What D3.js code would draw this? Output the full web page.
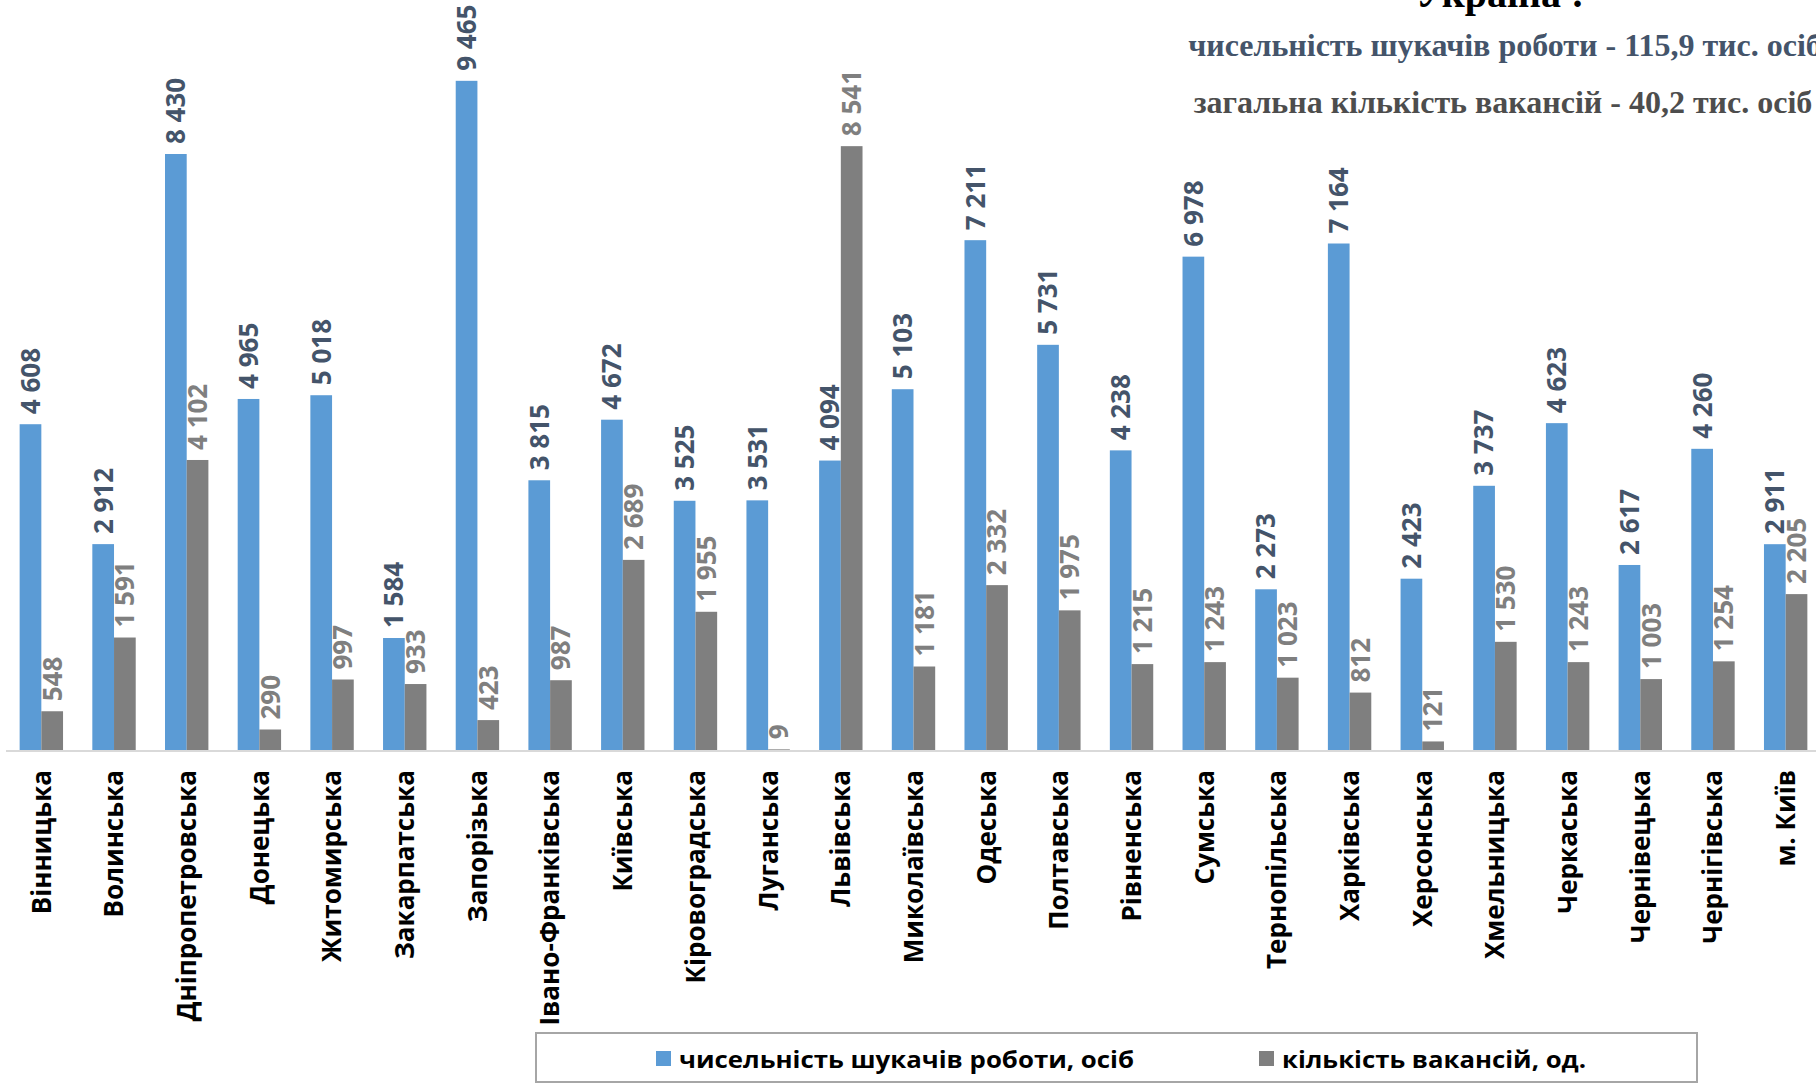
<!DOCTYPE html>
<html>
<head>
<meta charset="utf-8">
<script src="https://cdn.jsdelivr.net/npm/d3@7"></script>
<style>
  html, body { margin: 0; padding: 0; background: #fff; overflow: hidden; }
  svg { display: block; }
</style>
</head>
<body>
<svg id="chart" width="1816" height="1084"></svg>
<script>
const categories = ["Вінницька","Волинська","Дніпропетровська","Донецька","Житомирська","Закарпатська","Запорізька","Івано-Франківська","Київська","Кіровоградська","Луганська","Львівська","Миколаївська","Одеська","Полтавська","Рівненська","Сумська","Тернопільська","Харківська","Херсонська","Хмельницька","Черкаська","Чернівецька","Чернігівська","м. Київ"];
const seekers = [4608,2912,8430,4965,5018,1584,9465,3815,4672,3525,3531,4094,5103,7211,5731,4238,6978,2273,7164,2423,3737,4623,2617,4260,2911];
const vacancies = [548,1591,4102,290,997,933,423,987,2689,1955,9,8541,1181,2332,1975,1215,1243,1023,812,121,1530,1243,1003,1254,2205];
const seriesNames = ["чисельність шукачів роботи, осіб","кількість вакансій, од."];
const titleText = "Україна :";
const subtitle1 = "чисельність шукачів роботи - 115,9 тис. осіб";
const subtitle2 = "загальна кількість вакансій - 40,2 тис. осіб";

const colors = ["#5B9BD5", "#7F7F7F"];
const labelColors = ["#44546A", "#7F7F7F"];

const svg = d3.select("#chart");
const fmt = v => d3.format(",")(v).replace(/,/g, " ");

const x0 = d3.scaleBand().domain(categories).range([5, 1822]).paddingInner(0).paddingOuter(0);
const x1 = d3.scaleBand().domain([0, 1]).range([0, x0.bandwidth()]).paddingInner(0).paddingOuter(0.675);
const y = d3.scaleLinear().domain([0, 10000]).range([750, 43]);

const data = categories.map((c, i) => ({ cat: c, vals: [seekers[i], vacancies[i]] }));

// bars
const g = svg.append("g");
const groups = g.selectAll("g.grp").data(data).join("g")
  .attr("class", "grp")
  .attr("transform", d => `translate(${x0(d.cat)},0)`);

groups.selectAll("rect").data(d => d.vals.map((v, k) => ({ v, k }))).join("rect")
  .attr("x", d => x1(d.k))
  .attr("y", d => y(d.v))
  .attr("width", x1.bandwidth())
  .attr("height", d => y(0) - y(d.v))
  .attr("fill", d => colors[d.k]);

// baseline
svg.append("line")
  .attr("x1", 6).attr("x2", 1816)
  .attr("y1", y(0) + 1).attr("y2", y(0) + 1)
  .attr("stroke", "#D9D9D9").attr("stroke-width", 2);

// value labels
groups.selectAll("text.val").data(d => d.vals.map((v, k) => ({ v, k }))).join("text")
  .attr("class", "val")
  .attr("transform", d => `translate(${x1(d.k) + x1.bandwidth() / 2},${y(d.v) - 10}) rotate(-90)`)
  .attr("dy", "0.36em")
  .attr("text-anchor", "start")
  .attr("font-family", "'Open Sans', sans-serif")
  .attr("font-weight", "bold")
  .attr("font-size", 26)
  .attr("fill", d => labelColors[d.k])
  .text(d => fmt(d.v));

// category labels
const xAxis = d3.axisBottom(x0).tickSize(0).tickPadding(0);
const ax = svg.append("g").attr("transform", `translate(0,${y(0)})`).call(xAxis);
ax.select(".domain").remove();
ax.selectAll(".tick text")
  .attr("transform", "translate(0,20) rotate(-90)")
  .attr("x", 0).attr("y", 0)
  .attr("dy", "0.36em")
  .attr("text-anchor", "end")
  .attr("font-family", "'Open Sans', sans-serif")
  .attr("font-weight", "bold")
  .attr("font-size", 26)
  .attr("fill", "#000");

// titles
svg.append("text").attr("x", 1500).attr("y", 7)
  .attr("text-anchor", "middle")
  .attr("font-family", "'Liberation Serif', 'Times New Roman', serif")
  .attr("font-weight", "bold").attr("font-size", 40).attr("fill", "#000")
  .text(titleText);
svg.append("text").attr("x", 1505).attr("y", 56)
  .attr("text-anchor", "middle")
  .attr("font-family", "'Liberation Serif', 'Times New Roman', serif")
  .attr("font-weight", "bold").attr("font-size", 32).attr("fill", "#44546A")
  .text(subtitle1);
svg.append("text").attr("x", 1503).attr("y", 113)
  .attr("text-anchor", "middle")
  .attr("font-family", "'Liberation Serif', 'Times New Roman', serif")
  .attr("font-weight", "bold").attr("font-size", 32).attr("fill", "#4D4D4D")
  .text(subtitle2);

// legend
const lg = svg.append("g");
lg.append("rect").attr("x", 536).attr("y", 1033).attr("width", 1161).attr("height", 49)
  .attr("fill", "#fff").attr("stroke", "#A6A6A6").attr("stroke-width", 2);
const legendX = [656, 1259];
const legendTextW = [455, 304];
seriesNames.forEach((n, k) => {
  lg.append("rect").attr("x", legendX[k]).attr("y", 1051).attr("width", 15).attr("height", 15).attr("fill", colors[k]);
  lg.append("text").attr("x", legendX[k] + 23).attr("y", 1059).attr("dy", "0.36em")
    .attr("font-family", "'Open Sans', sans-serif").attr("font-weight", "bold").attr("font-size", 24)
    .attr("textLength", legendTextW[k]).attr("lengthAdjust", "spacingAndGlyphs")
    .attr("fill", "#000").text(n);
});
</script>
</body>
</html>
